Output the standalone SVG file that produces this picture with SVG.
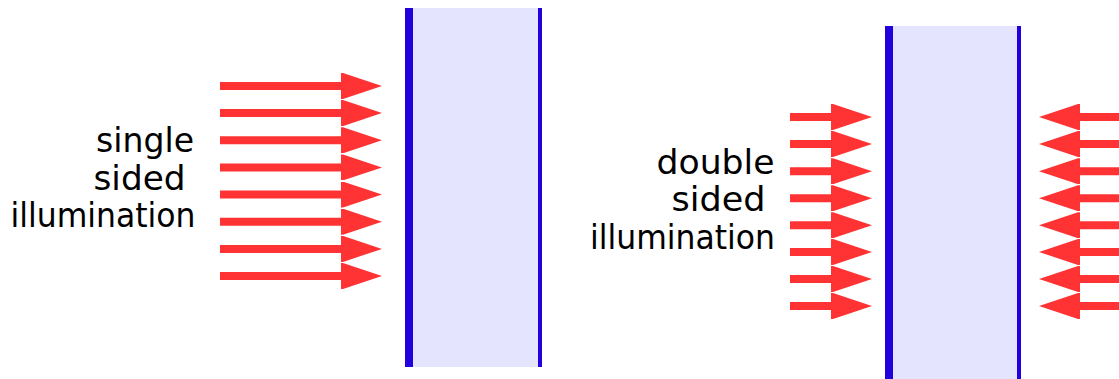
<svg xmlns="http://www.w3.org/2000/svg" width="1119" height="379" viewBox="0 0 1119 379">
<style>
.fill{fill:#e4e4ff}
.bar{fill:#2200dd}
.ray{stroke:#ff3333;stroke-width:8;fill:none;marker-end:url(#head)}
.lbl{font-family:"DejaVu Sans",sans-serif;font-size:33px;fill:#000;text-anchor:end}
</style>
<defs>
<marker id="head" viewBox="0 0 41 26" refX="2" refY="13" markerWidth="41" markerHeight="26" markerUnits="userSpaceOnUse" orient="auto">
<path d="M2,0 L41,13 L2,26 L0,26 L0,0 Z" fill="#ff3333"/>
</marker>
</defs>
<g id="slab-single">
<rect class="fill" x="413" y="8" width="125" height="359"/>
<rect class="bar" x="405" y="8" width="8" height="359"/>
<rect class="bar" x="538" y="8" width="4" height="359"/>
</g>
<g id="slab-double">
<rect class="fill" x="893" y="26" width="124" height="353"/>
<rect class="bar" x="885" y="26" width="8" height="353"/>
<rect class="bar" x="1017" y="26" width="4" height="353"/>
</g>
<g id="label-single">
<text class="lbl" x="194" y="151.5" textLength="98" lengthAdjust="spacingAndGlyphs">single</text>
<text class="lbl" x="185.5" y="189.5" textLength="92" lengthAdjust="spacingAndGlyphs">sided</text>
<text class="lbl" x="195.5" y="227" textLength="185" lengthAdjust="spacingAndGlyphs">illumination</text>
</g>
<g id="label-double">
<text class="lbl" x="774.5" y="173.5" textLength="118" lengthAdjust="spacingAndGlyphs">double</text>
<text class="lbl" x="765.5" y="211" textLength="94" lengthAdjust="spacingAndGlyphs">sided</text>
<text class="lbl" x="775" y="248.5" textLength="185" lengthAdjust="spacingAndGlyphs">illumination</text>
</g>
<g id="connectors">
<g id="rays-single">
<line class="ray" x1="220" y1="86" x2="343" y2="86"/>
<line class="ray" x1="220" y1="113.1" x2="343" y2="113.1"/>
<line class="ray" x1="220" y1="140.3" x2="343" y2="140.3"/>
<line class="ray" x1="220" y1="167.4" x2="343" y2="167.4"/>
<line class="ray" x1="220" y1="194.6" x2="343" y2="194.6"/>
<line class="ray" x1="220" y1="221.7" x2="343" y2="221.7"/>
<line class="ray" x1="220" y1="248.9" x2="343" y2="248.9"/>
<line class="ray" x1="220" y1="276" x2="343" y2="276"/>
</g>
<g id="rays-double-left">
<line class="ray" x1="790" y1="117" x2="833" y2="117"/>
<line class="ray" x1="790" y1="144" x2="833" y2="144"/>
<line class="ray" x1="790" y1="171.2" x2="833" y2="171.2"/>
<line class="ray" x1="790" y1="198.2" x2="833" y2="198.2"/>
<line class="ray" x1="790" y1="225.2" x2="833" y2="225.2"/>
<line class="ray" x1="790" y1="252" x2="833" y2="252"/>
<line class="ray" x1="790" y1="279" x2="833" y2="279"/>
<line class="ray" x1="790" y1="306" x2="833" y2="306"/>
</g>
<g id="rays-double-right">
<line class="ray" x1="1125" y1="117" x2="1078" y2="117"/>
<line class="ray" x1="1125" y1="144" x2="1078" y2="144"/>
<line class="ray" x1="1125" y1="171.2" x2="1078" y2="171.2"/>
<line class="ray" x1="1125" y1="198.2" x2="1078" y2="198.2"/>
<line class="ray" x1="1125" y1="225.2" x2="1078" y2="225.2"/>
<line class="ray" x1="1125" y1="252" x2="1078" y2="252"/>
<line class="ray" x1="1125" y1="279" x2="1078" y2="279"/>
<line class="ray" x1="1125" y1="306" x2="1078" y2="306"/>
</g>
</g>
</svg>
